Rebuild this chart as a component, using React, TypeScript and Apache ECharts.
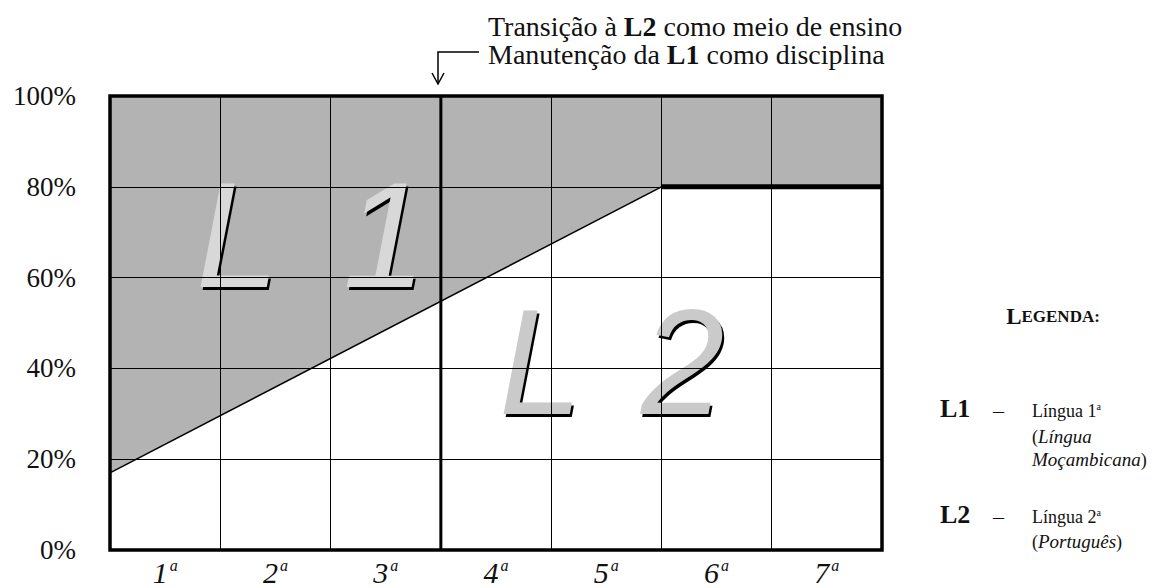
import React, { useEffect, useRef } from "react";
import * as echarts from "echarts";

// ---- data ----
const grades = ["1", "2", "3", "4", "5", "6", "7"];
const boundaryX = [0, 5, 7]; // grade boundaries of the L1/L2 split line
const boundaryY = [17, 80, 80]; // % share of L2 (below the line)
const transitionGrade = 3; // end of 3rd grade: transition to L2
const yMin = 0;
const yMax = 100;
const yStep = 20;

const SERIF = "Liberation Serif";
const SANS = "Liberation Sans";

export default function App() {
  const ref = useRef<HTMLDivElement>(null);

  useEffect(() => {
    document.body.style.margin = "0";
    const chart = echarts.init(ref.current!, null, { renderer: "svg" });

    const boundary = boundaryX.map((x, i) => [x, boundaryY[i]]);
    const diagonal = boundary.slice(0, 2);
    const plateau = boundary.slice(1);
    const xMax = grades.length;
    const frame = [
      [0, yMin],
      [xMax, yMin],
      [xMax, yMax],
      [0, yMax],
      [0, yMin],
    ];
    const transition = [
      [transitionGrade, yMin],
      [transitionGrade, yMax],
    ];

    const bigLetter = (t: string, x: number, y: number, fill: string) => [
      {
        type: "text",
        z: 5,
        x: x + 2,
        y: y + 3,
        style: {
          text: t,
          fontFamily: SANS,
          fontStyle: "italic",
          fontSize: 150,
          fill: "#000",
          textVerticalAlign: "middle",
        },
      },
      {
        type: "text",
        z: 6,
        x,
        y,
        style: {
          text: t,
          fontFamily: SANS,
          fontStyle: "italic",
          fontSize: 150,
          fill,
          textVerticalAlign: "middle",
        },
      },
    ];

    const tok = (size: number, extra: any = {}) => ({
      fontFamily: SERIF,
      fontSize: size,
      fill: "#111",
      color: "#111",
      ...extra,
    });

    const richText = (text: string, x: number, y: number, rich: any, extra: any = {}) => ({
      type: "text",
      z: 30,
      x,
      y,
      style: {
        text,
        fontFamily: SERIF,
        fill: "#111",
        textVerticalAlign: "middle",
        rich,
        ...extra,
      },
    });

    const annRich = { r: tok(28), b: tok(28, { fontWeight: "bold" }) };
    const legRich = {
      r: tok(18),
      i: tok(19, { fontStyle: "italic" }),
      s: tok(10, { verticalAlign: "top" }),
      L: tok(26, { fontWeight: "bold" }),
      d: tok(22),
    };

    chart.setOption({
      animation: false,
      grid: { left: 110, right: 274, top: 96, bottom: 38 },
      xAxis: [
        {
          type: "value",
          min: 0,
          max: xMax,
          interval: 1,
          z: 10,
          axisLine: { show: false },
          axisTick: { show: false },
          axisLabel: { show: false },
          splitLine: { show: true, lineStyle: { color: "#000", width: 1 } },
        },
        {
          type: "category",
          data: grades,
          position: "bottom",
          boundaryGap: true,
          axisLine: { show: false },
          axisTick: { show: false },
          splitLine: { show: false },
          axisLabel: {
            margin: 7,
            formatter: (v: string) => `{n|${v}}{s|a}`,
            rich: {
              n: { fontFamily: SERIF, fontStyle: "italic", fontSize: 30, color: "#111" },
              s: {
                fontFamily: SERIF,
                fontStyle: "italic",
                fontSize: 16,
                color: "#111",
                verticalAlign: "top",
                padding: [0, 0, 0, 2],
              },
            },
          },
        },
      ],
      yAxis: {
        type: "value",
        min: yMin,
        max: yMax,
        interval: yStep,
        z: 10,
        axisLine: { show: false },
        axisTick: { show: false },
        axisLabel: {
          formatter: "{value}%",
          fontFamily: SERIF,
          fontSize: 27,
          color: "#111",
          margin: 34,
        },
        splitLine: { show: true, lineStyle: { color: "#000", width: 1 } },
      },
      series: [
        {
          type: "line",
          data: boundary,
          symbol: "none",
          z: 1,
          lineStyle: { width: 0 },
          areaStyle: { color: "#b3b3b3", opacity: 1, origin: "end" },
        },
        {
          type: "line",
          data: diagonal,
          symbol: "none",
          z: 20,
          clip: false,
          lineStyle: { color: "#000", width: 1.5 },
        },
        {
          type: "line",
          data: plateau,
          symbol: "none",
          z: 20,
          clip: false,
          lineStyle: { color: "#000", width: 5 },
        },
        {
          type: "line",
          data: transition,
          symbol: "none",
          z: 20,
          clip: false,
          lineStyle: { color: "#000", width: 3 },
        },
        {
          type: "line",
          data: frame,
          symbol: "none",
          z: 21,
          clip: false,
          lineStyle: { color: "#000", width: 3.5, cap: "square", join: "miter" },
        },
      ],
      graphic: {
        elements: [
          ...bigLetter("L", 196, 235, "#d8d8d8"),
          ...bigLetter("1", 343, 235, "#d8d8d8"),
          ...bigLetter("L", 499, 362, "#cacaca"),
          ...bigLetter("2", 641, 362, "#cacaca"),
          // annotation
          richText("{r|Transição à }{b|L2}{r| como meio de ensino}", 488, 26, annRich),
          richText("{r|Manutenção da }{b|L1}{r| como disciplina}", 488, 54, annRich),
          {
            type: "polyline",
            z: 30,
            shape: { points: [[479, 52], [438, 52], [438, 84]] },
            style: { stroke: "#000", lineWidth: 1.5, fill: null },
          },
          {
            type: "polyline",
            z: 30,
            shape: { points: [[432, 73], [438, 84], [444, 73]] },
            style: { stroke: "#000", lineWidth: 1.5, fill: null },
          },
          // legend
          richText("{a|L}{b|EGENDA:}", 1053, 316, {
            a: tok(23, { fontWeight: "bold" }),
            b: tok(17, { fontWeight: "bold" }),
          }, { textAlign: "center" }),
          richText("{L|L1}", 940, 408, legRich),
          richText("{d|–}", 993, 410, legRich),
          richText("{r|Língua 1}{s|a}", 1032, 410.5, legRich),
          richText("{r|(}{i|Língua}", 1032, 436.5, legRich),
          richText("{i|Moçambicana}{r|)}", 1032, 459.5, legRich),
          richText("{L|L2}", 940, 514, legRich),
          richText("{d|–}", 993, 516, legRich),
          richText("{r|Língua 2}{s|a}", 1032, 516.5, legRich),
          richText("{r|(}{i|Português}{r|)}", 1032, 541.5, legRich),
        ],
      },
    });

    return () => chart.dispose();
  }, []);

  return <div ref={ref} style={{ width: 1156, height: 588 }} />;
}
